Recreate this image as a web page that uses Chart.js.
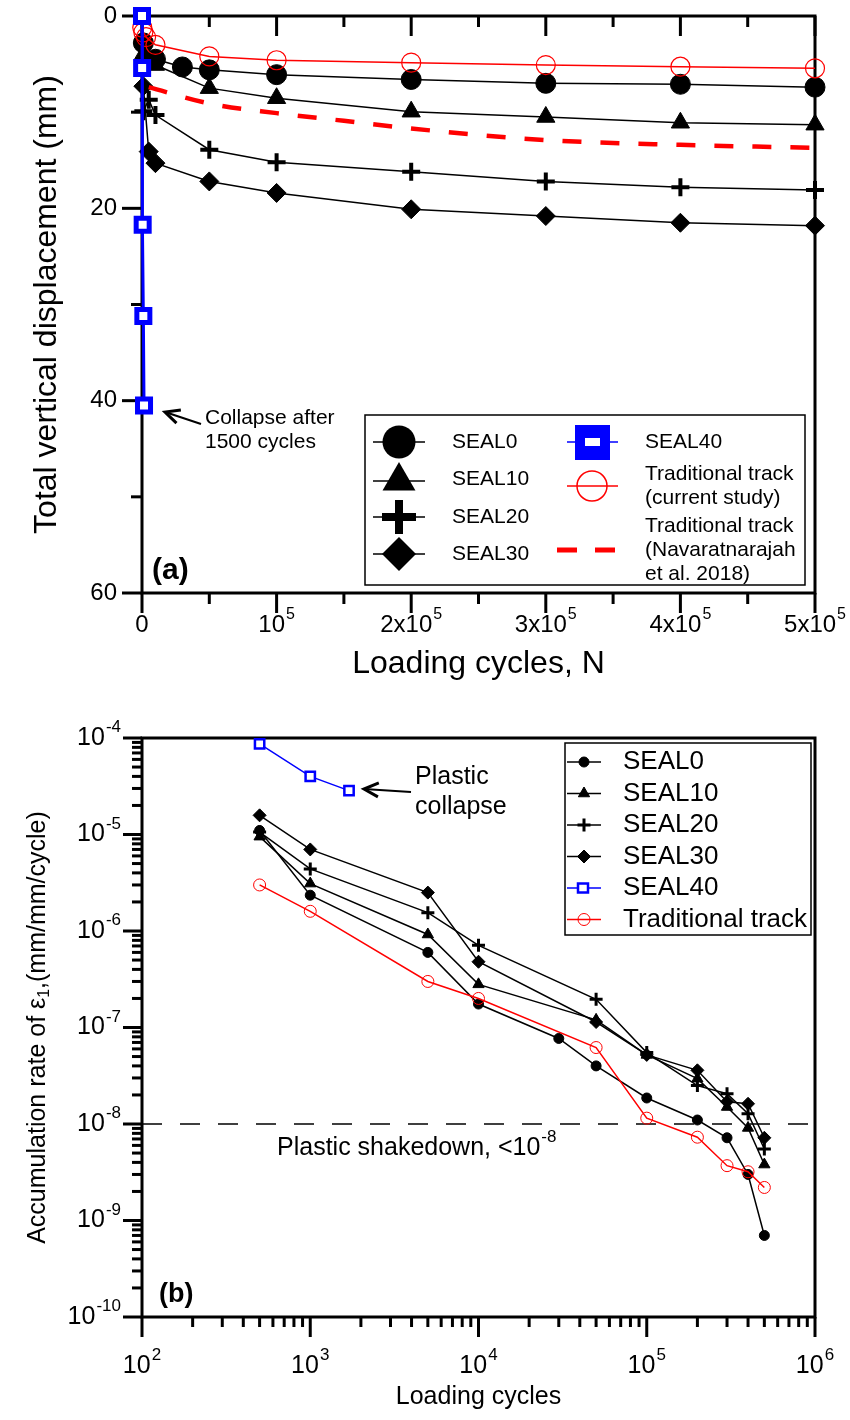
<!DOCTYPE html>
<html>
<head>
<meta charset="utf-8">
<script src="https://cdn.jsdelivr.net/npm/chart.js@4/dist/chart.umd.min.js"></script>
<style>
  html, body { margin: 0; padding: 0; background: #fff; }
  #wrap { position: relative; width: 850px; height: 1420px; }
  canvas { position: absolute; left: 0; }
  #dispChart { top: 0; }
  #rateChart { top: 690px; }
</style>
</head>
<body>
<div id="wrap">
  <canvas id="dispChart" width="850" height="690"></canvas>
  <canvas id="rateChart" width="850" height="730"></canvas>
</div>
<script>
// ---- (a) total vertical displacement (mm) vs loading cycles ----
const seal0N = [1000, 10000, 30000, 50000, 100000, 200000, 300000, 400000, 500000];
const seal0Disp = [2.8, 4.5, 5.3, 5.6, 6.1, 6.6, 7.0, 7.1, 7.4];
const seal10N = [1000, 10000, 50000, 100000, 200000, 300000, 400000, 500000];
const seal10Disp = [4.0, 5.1, 7.5, 8.55, 9.95, 10.5, 11.1, 11.3];
const seal20N = [1000, 5000, 10000, 50000, 100000, 200000, 300000, 400000, 500000];
const seal20Disp = [9.9, 8.7, 10.3, 13.9, 15.2, 16.2, 17.2, 17.8, 18.1];
const seal30N = [1000, 5000, 10000, 50000, 100000, 200000, 300000, 400000, 500000];
const seal30Disp = [7.3, 14.1, 15.3, 17.2, 18.4, 20.1, 20.8, 21.5, 21.8];
const seal40N = [0, 100, 500, 1000, 1500];
const seal40Disp = [0, 5.4, 21.7, 31.2, 40.5];
const tradN = [200, 1000, 3000, 10000, 50000, 100000, 200000, 300000, 400000, 500000];
const tradDisp = [1.2, 1.7, 2.2, 3.0, 4.2, 4.6, 4.85, 5.1, 5.27, 5.44];
const navaN = [5000, 50000, 100000, 150000, 200000, 300000, 400000, 500000];
const navaDisp = [7.4, 9.1, 10.1, 10.9, 11.7, 12.9, 13.4, 13.7];

const dispXTicks = [0, 100000, 200000, 300000, 400000, 500000];
const dispXLabels = [['0', ''], ['10', '5'], ['2x10', '5'], ['3x10', '5'], ['4x10', '5'], ['5x10', '5']];
const dispYTicks = [0, 20, 40, 60];

// ---- (b) accumulation rate of vertical strain vs loading cycles ----
const rateN = [500, 1000, 5000, 10000, 50000, 100000, 200000, 300000, 400000, 500000];
const rate0N = [500, 1000, 5000, 10000, 30000, 50000, 100000, 200000, 300000, 400000, 500000];
const rate0 = [1.1e-5, 2.35e-6, 6.0e-7, 1.75e-7, 7.7e-8, 4.0e-8, 1.86e-8, 1.1e-8, 7.2e-9, 3.0e-9, 7.0e-10];
const rate10 = [9.5e-6, 3.1e-6, 9.2e-7, 2.8e-7, 1.2e-7, 5.2e-8, 2.95e-8, 1.5e-8, 9.1e-9, 3.8e-9];
const rate20 = [1.06e-5, 4.4e-6, 1.55e-6, 7.1e-7, 1.96e-7, 5.5e-8, 2.5e-8, 2.06e-8, 1.28e-8, 5.5e-9];
const rate30 = [1.58e-5, 7.0e-6, 2.5e-6, 4.8e-7, 1.14e-7, 5.2e-8, 3.6e-8, 1.7e-8, 1.62e-8, 7.2e-9];
const rate40N = [500, 1000, 1700];
const rate40 = [8.7e-5, 4.0e-5, 2.85e-5];
const rateTrad = [3.0e-6, 1.6e-6, 3.0e-7, 2.0e-7, 6.2e-8, 1.15e-8, 7.3e-9, 3.7e-9, 3.2e-9, 2.2e-9];
const shakedownN = [100, 1000000];
const shakedownRate = [1e-8, 1e-8];

const rateXExps = [2, 3, 4, 5, 6];
const rateYExps = [-4, -5, -6, -7, -8, -9, -10];

const FONT = '"Liberation Sans", Arial, sans-serif';
const BLUE = '#0000ff';
const RED = '#ff0000';

const pts = (xs, ys) => xs.map((x, i) => ({ x: x, y: ys[i] }));

function seg(ctx, x1, y1, x2, y2) {
  ctx.beginPath(); ctx.moveTo(x1, y1); ctx.lineTo(x2, y2); ctx.stroke();
}

// "10" with a raised exponent, aligned around x
function powText(ctx, base, exp, x, y, align, big, small, bold) {
  const w = bold ? 'bold ' : '';
  ctx.font = w + big + 'px ' + FONT;
  const wb = ctx.measureText(base).width;
  ctx.font = small + 'px ' + FONT;
  const we = exp ? ctx.measureText(exp).width + 1 : 0;
  let x0 = x;
  if (align === 'center') x0 = x - (wb + we) / 2;
  if (align === 'right') x0 = x - wb - we;
  ctx.textAlign = 'left';
  ctx.textBaseline = 'middle';
  ctx.font = w + big + 'px ' + FONT;
  ctx.fillText(base, x0, y);
  if (exp) {
    ctx.font = small + 'px ' + FONT;
    ctx.fillText(exp, x0 + wb + 1, y - big * 0.42);
  }
}

function marker(ctx, style, r, x, y, fill, stroke, bw) {
  ctx.save();
  ctx.beginPath();
  if (style === 'circle') ctx.arc(x, y, r, 0, Math.PI * 2);
  else if (style === 'triangle') {
    ctx.moveTo(x, y - r); ctx.lineTo(x + r * 0.866, y + r * 0.5); ctx.lineTo(x - r * 0.866, y + r * 0.5); ctx.closePath();
  } else if (style === 'rectRot') {
    ctx.moveTo(x - r, y); ctx.lineTo(x, y - r); ctx.lineTo(x + r, y); ctx.lineTo(x, y + r); ctx.closePath();
  } else if (style === 'cross') {
    ctx.moveTo(x, y - r); ctx.lineTo(x, y + r); ctx.moveTo(x - r, y); ctx.lineTo(x + r, y);
  }
  if (style !== 'cross' && fill) { ctx.fillStyle = fill; ctx.fill(); }
  if (bw) { ctx.lineWidth = bw; ctx.strokeStyle = stroke; ctx.stroke(); }
  ctx.restore();
}

function arrow(ctx, x1, y1, x2, y2, head) {
  const ang = Math.atan2(y2 - y1, x2 - x1);
  ctx.save();
  ctx.strokeStyle = '#000';
  ctx.lineWidth = 2;
  seg(ctx, x1, y1, x2, y2);
  ctx.lineWidth = 3;
  ctx.beginPath();
  ctx.moveTo(x2 - head * Math.cos(ang - 0.45), y2 - head * Math.sin(ang - 0.45));
  ctx.lineTo(x2, y2);
  ctx.lineTo(x2 - head * Math.cos(ang + 0.45), y2 - head * Math.sin(ang + 0.45));
  ctx.stroke();
  ctx.restore();
}

function label(ctx, text, x, y, size, align, bold) {
  ctx.font = (bold ? 'bold ' : '') + size + 'px ' + FONT;
  ctx.textAlign = align || 'left';
  ctx.textBaseline = 'middle';
  ctx.fillText(text, x, y);
}

// ---------- chart (a) ----------
const dispDecor = {
  id: 'dispDecor',
  beforeDatasetsDraw(chart) {
    const { ctx, chartArea: a, scales: { x, y } } = chart;
    ctx.save();
    ctx.strokeStyle = '#000';
    ctx.fillStyle = '#000';
    ctx.lineWidth = 3;
    ctx.strokeRect(a.left, a.top, a.right - a.left, a.bottom - a.top);
    for (let v = 0; v <= 500000; v += 50000) {
      const px = x.getPixelForValue(v);
      const len = v % 100000 === 0 ? 20 : 11;
      seg(ctx, px, a.bottom, px, a.bottom + len);
      seg(ctx, px, a.top, px, a.top + len);
    }
    for (let v = 0; v <= 60; v += 10) {
      const py = y.getPixelForValue(v);
      seg(ctx, a.left - (v % 20 === 0 ? 20 : 11), py, a.left, py);
    }
    dispXTicks.forEach((v, i) => {
      powText(ctx, dispXLabels[i][0], dispXLabels[i][1], x.getPixelForValue(v), a.bottom + 32, 'center', 24, 16);
    });
    dispYTicks.forEach(v => label(ctx, String(v), 117, y.getPixelForValue(v), 24, 'right'));

    label(ctx, 'Loading cycles, N', (a.left + a.right) / 2, 664, 32, 'center');
    ctx.save();
    ctx.translate(47, (a.top + a.bottom) / 2);
    ctx.rotate(-Math.PI / 2);
    label(ctx, 'Total vertical displacement (mm)', 0, 0, 32, 'center');
    ctx.restore();
    ctx.restore();
  },
  afterDatasetsDraw(chart) {
    const { ctx } = chart;
    ctx.save();
    ctx.fillStyle = '#000';
    label(ctx, '(a)', 152, 571, 30, 'left', true);
    label(ctx, 'Collapse after', 205, 418, 21);
    label(ctx, '1500 cycles', 205, 442, 21);
    arrow(ctx, 201, 424, 165, 412, 16);

    // legend box
    ctx.fillStyle = '#fff';
    ctx.fillRect(365, 415, 440, 170);
    ctx.strokeStyle = '#000';
    ctx.lineWidth = 1.5;
    ctx.strokeRect(365, 415, 440, 170);

    const ds = chart.data.datasets;
    const left = [[0, 442, 16.5, 0], [1, 481, 19, 0], [2, 517, 17, 8], [3, 554, 17, 0]];
    left.forEach(([i, yy, r, bw]) => {
      const d = ds[i];
      ctx.strokeStyle = '#000'; ctx.lineWidth = 1.5;
      seg(ctx, 373, yy, 425, yy);
      marker(ctx, d.pointStyle, r, 399, yy, '#000', '#000', bw);
      ctx.fillStyle = '#000';
      label(ctx, d.label, 452, i === 1 ? 479 : yy, 21);
    });
    // SEAL40
    ctx.strokeStyle = BLUE; ctx.lineWidth = 1.5;
    seg(ctx, 567, 442, 618, 442);
    ctx.fillStyle = BLUE; ctx.fillRect(575, 425, 35, 35);
    ctx.fillStyle = '#fff'; ctx.fillRect(585, 438, 15, 8);
    ctx.fillStyle = '#000';
    label(ctx, ds[4].label, 645, 442, 21);
    // traditional track (current study)
    ctx.strokeStyle = RED; ctx.lineWidth = 1.5;
    seg(ctx, 567, 486, 618, 486);
    marker(ctx, 'circle', 15, 592, 486, null, RED, 1.5);
    ctx.fillStyle = '#000';
    label(ctx, 'Traditional track', 645, 474, 21);
    label(ctx, '(current study)', 645, 498, 21);
    // traditional track (Navaratnarajah et al. 2018)
    ctx.strokeStyle = RED; ctx.lineWidth = 5; ctx.setLineDash([20, 18]);
    seg(ctx, 557, 550, 617, 550);
    ctx.setLineDash([]);
    ctx.fillStyle = '#000';
    label(ctx, 'Traditional track', 645, 526, 21);
    label(ctx, '(Navaratnarajah', 645, 550, 21);
    label(ctx, 'et al. 2018)', 645, 574, 21);
    ctx.restore();
  }
};

const blackSeries = (lbl, data, style, r, pbw, order) => ({
  label: lbl, data: data, order: order, clip: false,
  borderColor: '#000', borderWidth: 1.5, backgroundColor: '#000',
  pointStyle: style, pointRadius: r, pointBackgroundColor: '#000',
  pointBorderColor: '#000', pointBorderWidth: pbw
});

new Chart(document.getElementById('dispChart').getContext('2d'), {
  type: 'line',
  data: {
    datasets: [
      blackSeries('SEAL0', pts(seal0N, seal0Disp), 'circle', 10, 1, 5),
      blackSeries('SEAL10', pts(seal10N, seal10Disp), 'triangle', 10.5, 1, 4),
      blackSeries('SEAL20', pts(seal20N, seal20Disp), 'cross', 9, 4, 3),
      blackSeries('SEAL30', pts(seal30N, seal30Disp), 'rectRot', 9.5, 1, 6),
      {
        label: 'SEAL40', data: pts(seal40N, seal40Disp), order: 0, clip: false,
        borderColor: BLUE, borderWidth: 3, pointStyle: 'rect', pointRadius: 9.2,
        pointBackgroundColor: '#fff', pointBorderColor: BLUE, pointBorderWidth: 5
      },
      {
        label: 'Traditional track (current study)', data: pts(tradN, tradDisp), order: 1, clip: false,
        borderColor: RED, borderWidth: 1.5, pointStyle: 'circle', pointRadius: 9.5,
        pointBackgroundColor: 'rgba(0,0,0,0)', pointBorderColor: RED, pointBorderWidth: 1.2
      },
      {
        label: 'Traditional track (Navaratnarajah et al. 2018)', data: pts(navaN, navaDisp), order: 2, clip: false,
        borderColor: RED, borderWidth: 4.5, borderDash: [19, 19], pointRadius: 0,
        cubicInterpolationMode: 'monotone'
      }
    ]
  },
  options: {
    responsive: false,
    animation: false,
    devicePixelRatio: 1,
    events: [],
    layout: { padding: { left: 142, right: 35, top: 16, bottom: 97 } },
    plugins: { legend: { display: false }, tooltip: { enabled: false } },
    scales: {
      x: { type: 'linear', min: 0, max: 500000, display: false },
      y: { type: 'linear', min: 0, max: 60, reverse: true, display: false }
    }
  },
  plugins: [dispDecor]
});

// ---------- chart (b) ----------
const rateDecor = {
  id: 'rateDecor',
  beforeDatasetsDraw(chart) {
    const { ctx, chartArea: a, scales: { x, y } } = chart;
    ctx.save();
    ctx.strokeStyle = '#000';
    ctx.fillStyle = '#000';
    ctx.lineWidth = 3;
    ctx.strokeRect(a.left, a.top, a.right - a.left, a.bottom - a.top);
    rateXExps.forEach(e => {
      for (let k = 1; k <= 9; k++) {
        if (e === 6 && k > 1) break;
        const px = x.getPixelForValue(k * Math.pow(10, e));
        seg(ctx, px, a.bottom, px, a.bottom + (k === 1 ? 20 : 10));
      }
      powText(ctx, '10', String(e), x.getPixelForValue(Math.pow(10, e)), a.bottom + 49, 'center', 25, 17);
    });
    rateYExps.forEach(e => {
      for (let k = 1; k <= 9; k++) {
        if (e === -4 && k > 1) break;
        const py = y.getPixelForValue(k * Math.pow(10, e));
        seg(ctx, a.left - (k === 1 ? 19 : 10), py, a.left, py);
      }
      powText(ctx, '10', String(e), 121, y.getPixelForValue(Math.pow(10, e)), 'right', 25, 17);
    });

    label(ctx, 'Loading cycles', (a.left + a.right) / 2, 707, 25, 'center');
    ctx.save();
    ctx.translate(38, (a.top + a.bottom) / 2);
    ctx.rotate(-Math.PI / 2);
    // title with subscript 1, laid out left to right along the rotated axis
    const parts = [['Accumulation rate of \u03b5', 25, 0], ['1', 16, 7], [',(mm/mm/cycle)', 25, 0]];
    let total = 0;
    parts.forEach(p => { ctx.font = p[1] + 'px ' + FONT; total += ctx.measureText(p[0]).width; });
    let cx = -total / 2;
    ctx.textAlign = 'left';
    ctx.textBaseline = 'middle';
    parts.forEach(p => {
      ctx.font = p[1] + 'px ' + FONT;
      ctx.fillText(p[0], cx, p[2]);
      cx += ctx.measureText(p[0]).width;
    });
    ctx.restore();
    ctx.restore();
  },
  afterDatasetsDraw(chart) {
    const { ctx } = chart;
    ctx.save();
    ctx.fillStyle = '#000';
    label(ctx, '(b)', 159, 605, 27, 'left', true);
    label(ctx, 'Plastic', 415, 87, 25);
    label(ctx, 'collapse', 415, 117, 25);
    arrow(ctx, 411, 102, 364, 99, 16);
    // "Plastic shakedown, <10^-8"
    ctx.font = '25px ' + FONT;
    const head = 'Plastic shakedown, <';
    const w = ctx.measureText(head).width;
    label(ctx, head, 277, 458, 25);
    powText(ctx, '10', '-8', 277 + w, 458, 'left', 25, 17);

    // legend
    ctx.fillStyle = '#fff';
    ctx.fillRect(565, 53, 246, 192);
    ctx.strokeStyle = '#000';
    ctx.lineWidth = 1.5;
    ctx.strokeRect(565, 53, 246, 192);
    const ds = chart.data.datasets;
    const rows = [0, 1, 2, 3, 4, 5];
    rows.forEach((i, n) => {
      const d = ds[i];
      const yy = 72 + n * 31.5;
      ctx.strokeStyle = d.borderColor; ctx.lineWidth = 1.5;
      seg(ctx, 567, yy, 601, yy);
      if (d.pointStyle === 'rect') {
        ctx.fillStyle = '#fff';
        ctx.fillRect(578, yy - 4.5, 10, 9);
        ctx.strokeStyle = BLUE; ctx.lineWidth = 2.5;
        ctx.strokeRect(578, yy - 4.5, 10, 9);
      } else {
        const fill = d.pointBackgroundColor === '#000' ? '#000' : null;
        marker(ctx, d.pointStyle, d.pointRadius, 584, yy, fill, d.pointBorderColor, d.pointBorderWidth);
      }
      ctx.fillStyle = '#000';
      label(ctx, d.label, 623, yy, 26);
    });
    ctx.restore();
  }
};

const rateBlack = (lbl, data, style, r, pbw) => ({
  label: lbl, data: data, clip: false, order: 2,
  borderColor: '#000', borderWidth: 1.5,
  pointStyle: style, pointRadius: r, pointBackgroundColor: '#000',
  pointBorderColor: '#000', pointBorderWidth: pbw
});

new Chart(document.getElementById('rateChart').getContext('2d'), {
  type: 'line',
  data: {
    datasets: [
      rateBlack('SEAL0', pts(rate0N, rate0), 'circle', 5, 1),
      rateBlack('SEAL10', pts(rateN, rate10), 'triangle', 6.5, 1),
      rateBlack('SEAL20', pts(rateN, rate20), 'cross', 6.5, 3),
      rateBlack('SEAL30', pts(rateN, rate30), 'rectRot', 6.5, 1),
      {
        label: 'SEAL40', data: pts(rate40N, rate40), clip: false, order: 1,
        borderColor: BLUE, borderWidth: 1.5, pointStyle: 'rect', pointRadius: 6.6,
        pointBackgroundColor: '#fff', pointBorderColor: BLUE, pointBorderWidth: 2.5
      },
      {
        label: 'Traditional track', data: pts(rateN, rateTrad), clip: false, order: 1,
        borderColor: RED, borderWidth: 1.5, pointStyle: 'circle', pointRadius: 6,
        pointBackgroundColor: 'rgba(0,0,0,0)', pointBorderColor: RED, pointBorderWidth: 1
      },
      {
        label: 'Plastic shakedown', data: pts(shakedownN, shakedownRate), clip: false, order: 3,
        borderColor: '#000', borderWidth: 1.5, borderDash: [20, 18], pointRadius: 0
      }
    ]
  },
  options: {
    responsive: false,
    animation: false,
    devicePixelRatio: 1,
    events: [],
    layout: { padding: { left: 142, right: 35, top: 48, bottom: 103 } },
    plugins: { legend: { display: false }, tooltip: { enabled: false } },
    scales: {
      x: { type: 'logarithmic', min: 100, max: 1000000, display: false },
      y: { type: 'logarithmic', min: 1e-10, max: 1e-4, display: false }
    }
  },
  plugins: [rateDecor]
});
</script>
</body>
</html>
